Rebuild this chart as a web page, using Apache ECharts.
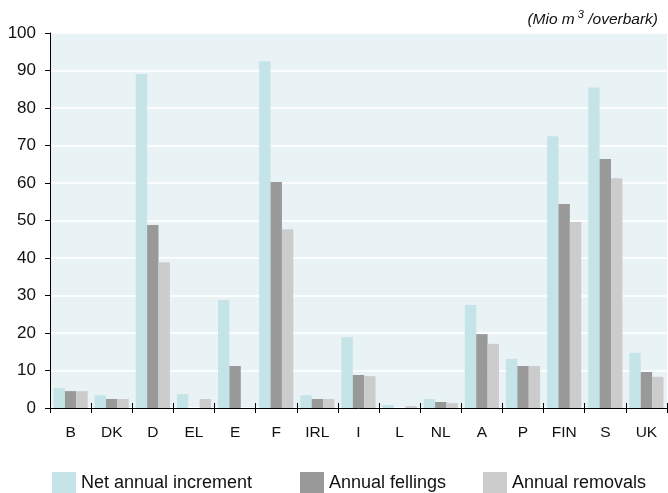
<!DOCTYPE html>
<html>
<head>
<meta charset="utf-8">
<script src="https://cdn.jsdelivr.net/npm/echarts@6/dist/echarts.min.js"></script>
<style>html,body{margin:0;padding:0;background:#fff}#c{width:668px;height:493px}</style>
</head>
<body>
<div id="c"></div>
<script>
var categories = ['B','DK','D','EL','E','F','IRL','I','L','NL','A','P','FIN','S','UK'];
var netIncrement = [5.3,3.4,89.1,3.7,28.8,92.5,3.4,18.9,0.8,2.4,27.5,13.1,72.5,85.5,14.7];
var fellings = [4.5,2.4,48.8,0,11.2,60.3,2.4,8.8,0,1.6,19.7,11.2,54.4,66.4,9.6];
var removals = [4.5,2.4,38.9,2.4,0,47.7,2.4,8.5,0.5,1.3,17.1,11.2,49.6,61.3,8.3];
var yTicks = [0,10,20,30,40,50,60,70,80,90,100];
var seriesNames = ['Net annual increment','Annual fellings','Annual removals'];
var colors = ['#c5e4e7','#999999','#cccccc'];

var font = 'Liberation Sans, Arial, sans-serif';
var chart = echarts.init(document.getElementById('c'), null, {renderer:'canvas'});
function legend(i, left){
  return {data:[seriesNames[i]], left:left, top:467, itemWidth:24, itemHeight:22, icon:'rect',
    itemGap:0, textStyle:{fontSize:18, color:'#111', fontFamily:font}, selectedMode:false};
}
var option = {
  animation:false,
  textStyle:{fontFamily:font},
  grid:{left:50, right:1, top:33, bottom:85, show:true, backgroundColor:'#e9f2f5', borderWidth:0},
  title:{text:'{a|(Mio m}{s| 3}{a| /overbark)}', right:5, top:3,
    textStyle:{fontWeight:'normal', rich:{a:{fontSize:15.5, fontStyle:'italic', fontWeight:'normal', color:'#111', fontFamily:font, padding:[4,0,0,0]},
      s:{fontSize:11, fontStyle:'italic', fontWeight:'normal', color:'#111', fontFamily:font, padding:[0,0,6,0]}}}},
  legend:[legend(0,47), legend(1,295), legend(2,478)],
  xAxis:[{type:'category', data:categories, position:'bottom',
    axisLine:{show:true, lineStyle:{color:'#000', width:1}},
    axisTick:{show:true, length:5, lineStyle:{color:'#000'}},
    axisLabel:{fontSize:15.5, color:'#111', margin:17, fontFamily:font}},
    {type:'category', data:categories, position:'bottom',
    axisLine:{show:false}, axisTick:{show:true, inside:true, length:5, lineStyle:{color:'#000'}},
    axisLabel:{show:false}}],
  yAxis:{type:'value', min:yTicks[0], max:yTicks[yTicks.length-1], interval:10,
    axisLine:{show:true, lineStyle:{color:'#000', width:1}},
    axisTick:{show:true, length:5, lineStyle:{color:'#000'}},
    axisLabel:{fontSize:17, color:'#111', margin:14, fontFamily:font},
    splitLine:{show:true, lineStyle:{color:'#ffffff', width:1.5}}},
  series:[
    {name:seriesNames[0], type:'bar', data:netIncrement, itemStyle:{color:colors[0]}, barGap:'0%', barCategoryGap:'17%', xAxisIndex:0},
    {name:seriesNames[1], type:'bar', data:fellings, itemStyle:{color:colors[1]}, barGap:'0%', barCategoryGap:'17%', xAxisIndex:0},
    {name:seriesNames[2], type:'bar', data:removals, itemStyle:{color:colors[2]}, barGap:'0%', barCategoryGap:'17%', xAxisIndex:0}
  ]
};
chart.setOption(option);
</script>
</body>
</html>
